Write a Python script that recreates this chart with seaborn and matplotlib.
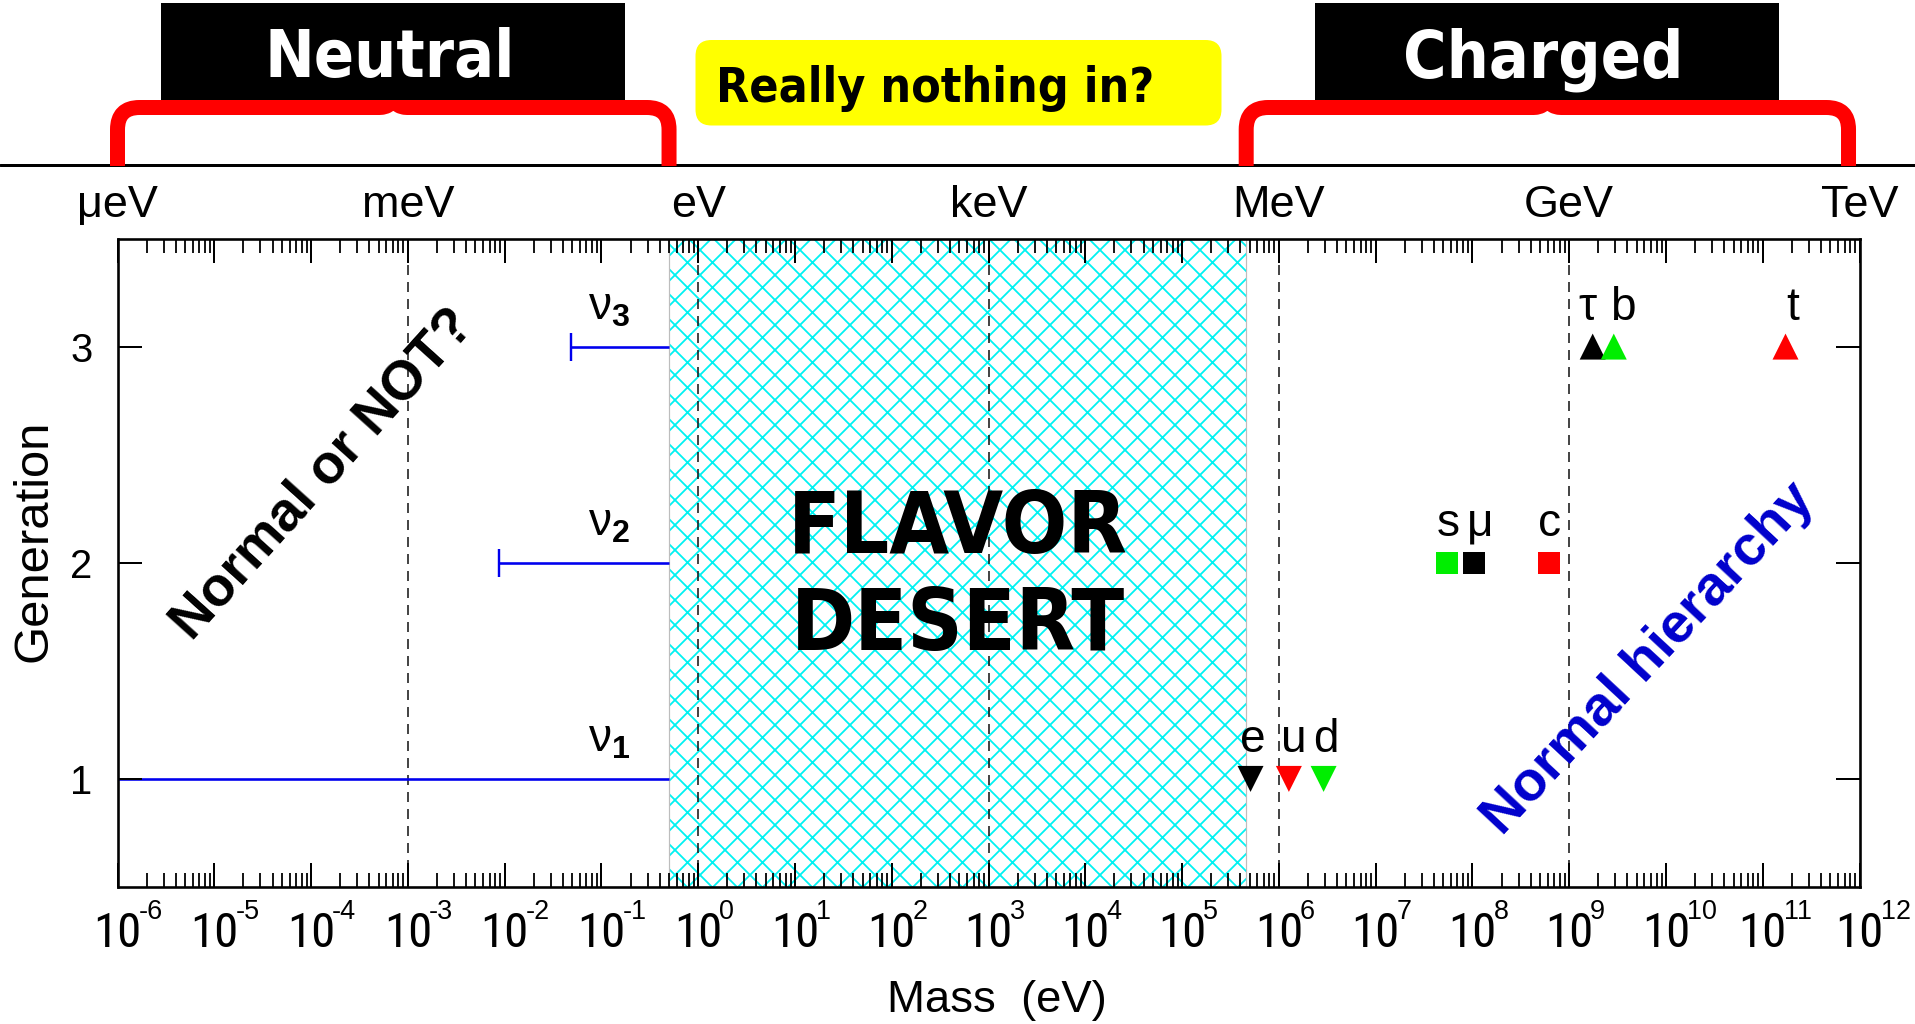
import numpy as np
import pandas as pd
import matplotlib
matplotlib.use("Agg")
import matplotlib.pyplot as plt
import matplotlib.ticker as mticker
import matplotlib.transforms as mtransforms
from matplotlib.patches import Rectangle, FancyBboxPatch, PathPatch
from matplotlib.path import Path
from matplotlib.lines import Line2D
from matplotlib import font_manager as fm
import seaborn as sns

# ---------------- data ----------------
fermion_names = ["e", "u", "d", "s", "μ", "c", "τ", "b", "t"]
fermion_mass_ev = [5.1e5, 1.27e6, 2.90e6, 5.5e7, 1.03e8, 6.2e8, 1.75e9, 2.89e9, 1.72e11]
fermion_generation = [1, 1, 1, 2, 2, 2, 3, 3, 3]
fermion_type = ["lepton", "up", "down", "down", "lepton", "up", "lepton", "down", "up"]
fermion_label_shift_px = [2, 5, 2, 1, 6, 0, -5, 9, 7]

neutrino_labels = [r"$ν_{\mathbf{1}}$", r"$ν_{\mathbf{2}}$", r"$ν_{\mathbf{3}}$"]
neutrino_generation = [1, 2, 3]
neutrino_mass_min = [1e-6, 8.7e-3, 4.9e-2]
neutrino_mass_max = [0.5, 0.5, 0.5]
neutrino_has_floor = [False, True, True]
neutrino_label_mass = 0.12

desert_range = (0.5, 4.6e5)
decade_guides = [1e-3, 1e0, 1e3, 1e6, 1e9]
unit_names = ["μeV", "meV", "eV", "keV", "MeV", "GeV", "TeV"]
unit_values = [1e-6, 1e-3, 1e0, 1e3, 1e6, 1e9, 1e12]
mass_exponents = list(range(-6, 13))
generation_ticks = [1, 2, 3]

neutral_span = (1e-6, 0.5)
charged_span = (4.6e5, 7.7e11)

# ---------------- geometry helpers ----------------
DPI = 150
W, H = 1915, 1024


def pt(px):
    return px * 72.0 / DPI


sns.set_theme(style="ticks")
_avail = {f.name for f in fm.fontManager.ttflist}
_narrow_pref = ["Liberation Sans Narrow", "Arial Narrow", "Roboto Condensed",
                "PT Sans Narrow", "Pragati Narrow", "Archivo Narrow", "Liberation Sans"]
NARROW = next(n for n in _narrow_pref if n in _avail)
_has_cond = any(f.name == "DejaVu Sans" and str(f.stretch) == "condensed" for f in fm.fontManager.ttflist)
HEAVY_STRETCH = "condensed" if _has_cond else "normal"

plt.rcParams["font.family"] = ["Liberation Sans", "DejaVu Sans"]
plt.rcParams["mathtext.fontset"] = "custom"
plt.rcParams["mathtext.rm"] = "Liberation Sans"
plt.rcParams["mathtext.bf"] = "Liberation Sans:bold"
plt.rcParams["mathtext.default"] = "regular"
plt.rcParams["hatch.linewidth"] = pt(1.8)
plt.rcParams["lines.scale_dashes"] = False

fig = plt.figure(figsize=(W / DPI, H / DPI), dpi=DPI)
fig.patch.set_facecolor("white")
ax_l, ax_r, ax_t, ax_b = 117.5, 1859.5, 238.5, 887.0
ax = fig.add_axes([ax_l / W, 1 - ax_b / H, (ax_r - ax_l) / W, (ax_b - ax_t) / H])
ax.set_facecolor("white")
ax.set_xscale("log")
ax.set_xlim(1e-6, 1e12)
ax.set_ylim(0.5, 3.5)
ax.set_axisbelow(False)

# transform for header artwork given in pixels from the top-left corner
PX = mtransforms.Affine2D().scale(1.0 / W, -1.0 / H).translate(0, 1) + fig.transFigure

# ---------------- plot body ----------------
ax.axvspan(*desert_range, facecolor="none", edgecolor="#00f2f2", hatch="xx",
           linewidth=0, zorder=1)
ax.axvspan(*desert_range, facecolor="none", edgecolor="#bdbdbd",
           linewidth=pt(1.2), zorder=1.1)

for v in decade_guides:
    ax.axvline(v, color="#1a1a1a", lw=pt(1.6), dashes=(pt(10), pt(7)), zorder=2)

ax.hlines(neutrino_generation, neutrino_mass_min, neutrino_mass_max,
          color="#0000ee", lw=pt(2.6), zorder=2.2)
floor_x = [m for m, f in zip(neutrino_mass_min, neutrino_has_floor) if f]
floor_y = [g for g, f in zip(neutrino_generation, neutrino_has_floor) if f]
ax.plot(floor_x, floor_y, ls="none", marker="|", ms=pt(28), mew=pt(2.4),
        color="#0000ee", zorder=2.2)
for lab, g in zip(neutrino_labels, neutrino_generation):
    ax.text(neutrino_label_mass, g + 0.125, lab, ha="center", va="baseline",
            fontsize=pt(46), color="black", zorder=6)

df = pd.DataFrame({
    "mass": fermion_mass_ev,
    "generation": fermion_generation,
    "type": fermion_type,
    "name": fermion_names,
    "shift": fermion_label_shift_px,
})
sns.scatterplot(
    data=df, x="mass", y="generation", hue="type", style="generation", size="generation",
    palette={"lepton": "black", "up": "#ff0000", "down": "#00ee00"},
    markers={1: "v", 2: "s", 3: "^"},
    sizes={1: pt(26) ** 2, 2: pt(22) ** 2, 3: pt(26) ** 2},
    linewidth=0, legend=False, ax=ax, zorder=5,
)
for _, row in df.iterrows():
    ax.annotate(row["name"], xy=(row["mass"], row["generation"] + 0.125),
                xytext=(pt(row["shift"]), 0), textcoords="offset points",
                ha="center", va="baseline", fontsize=pt(46), color="black", zorder=6)

# annotations inside the frame
ax.text(np.sqrt(desert_range[0] * desert_range[1]), 1.596, "FLAVOR\nDESERT",
        ha="center", va="baseline", fontsize=pt(86), fontweight="bold",
        family="DejaVu Sans", fontstretch=HEAVY_STRETCH, linespacing=1.22,
        color="black", zorder=6)
ax.text(1.33e-4, 2.406, "Normal or NOT?", rotation=48, ha="center", va="center",
        fontsize=pt(55), fontweight="bold", color="black", zorder=6)
ax.text(6.6e9, 1.554, "Normal hierarchy", rotation=47, ha="center", va="center",
        fontsize=pt(56), fontweight="bold", color="#0000cc", zorder=6)

# ---------------- axes styling ----------------
ax.xaxis.set_major_locator(mticker.FixedLocator([10.0 ** k for k in mass_exponents]))
ax.xaxis.set_minor_locator(mticker.LogLocator(base=10, subs=np.arange(2, 10), numticks=40))
ax.xaxis.set_major_formatter(mticker.FuncFormatter(lambda v, p: "10"))
ax.xaxis.set_minor_formatter(mticker.NullFormatter())
ax.set_yticks(generation_ticks)
ax.yaxis.set_minor_locator(mticker.NullLocator())

ax.tick_params(axis="both", which="both", direction="in", top=True, right=True,
               color="black", labelcolor="black")
ax.tick_params(axis="x", which="major", length=pt(24), width=pt(2), pad=pt(60),
               labelsize=pt(49), labelfontfamily=NARROW)
ax.tick_params(axis="x", which="minor", length=pt(14), width=pt(1.8))
ax.tick_params(axis="y", which="major", length=pt(24), width=pt(2), pad=pt(25),
               labelsize=pt(40))
for sp in ax.spines.values():
    sp.set_color("black")
    sp.set_linewidth(pt(2.6))
for tick in ax.xaxis.get_major_ticks():
    tick.label1.set_verticalalignment("baseline")
    tick.label1.set_fontweight("normal")

# decade exponents written as superscripts beside each "10"
for k in mass_exponents:
    ax.annotate(str(k), xy=(10.0 ** k, 0), xycoords=("data", "axes fraction"),
                xytext=(pt(21), -pt(32)), textcoords="offset points",
                ha="left", va="baseline", fontsize=pt(27), color="black",
                annotation_clip=False)

ax.set_xlabel("Mass  (eV)", fontsize=pt(45.5), color="black")
ax.xaxis.label.set_va("baseline")
ax.xaxis.set_label_coords(0.505, -(1012 - ax_b) / (ax_b - ax_t))
ax.set_ylabel("Generation", fontsize=pt(49), color="black")
ax.yaxis.label.set_va("center")
ax.yaxis.set_label_coords(-(ax_l - 34) / (ax_r - ax_l), (ax_b - 541) / (ax_b - ax_t))

# energy-unit labels above the frame
for name, v in zip(unit_names, unit_values):
    ax.text(v, (ax_b - 217) / (ax_b - ax_t), name, transform=ax.get_xaxis_transform(),
            ha="center", va="baseline", fontsize=pt(45), color="black", clip_on=False)

# ---------------- header ----------------
fig.add_artist(Line2D([0, W], [164.5, 164.5], transform=PX, color="black", lw=pt(3)))


def x_px(m):
    return ax.transData.transform((m, 1.0))[0] * W / fig.bbox.width


def brace(x0, x1, y_feet=166.0, y_bar=107.5, r=22.0, tip=14.0):
    xm = 0.5 * (x0 + x1)
    verts = [(x0, y_feet), (x0, y_bar + r), (x0, y_bar), (x0 + r, y_bar),
             (xm - tip, y_bar), (xm, y_bar), (xm, y_bar - tip),
             (xm, y_bar - tip), (xm, y_bar), (xm + tip, y_bar),
             (x1 - r, y_bar), (x1, y_bar), (x1, y_bar + r), (x1, y_feet)]
    codes = [Path.MOVETO, Path.LINETO, Path.CURVE3, Path.CURVE3,
             Path.LINETO, Path.CURVE3, Path.CURVE3,
             Path.MOVETO, Path.CURVE3, Path.CURVE3,
             Path.LINETO, Path.CURVE3, Path.CURVE3, Path.LINETO]
    fig.add_artist(PathPatch(Path(verts, codes), facecolor="none", edgecolor="#ff0000",
                             lw=pt(15), capstyle="butt", joinstyle="round",
                             transform=PX, zorder=3))
    return xm


for span, title in [(neutral_span, "Neutral"), (charged_span, "Charged")]:
    xm = brace(x_px(span[0]), x_px(span[1]))
    fig.add_artist(Rectangle((xm - 232, 3), 464, 96.5, transform=PX,
                             facecolor="black", edgecolor="none", zorder=4))
    fig.text(xm - 4, 77, title, transform=PX, ha="center", va="baseline",
             color="white", fontsize=pt(66), fontweight="bold",
             family="DejaVu Sans", fontstretch=HEAVY_STRETCH, zorder=5)

fig.add_artist(FancyBboxPatch((695.5, 40), 526, 85.5,
                              boxstyle="round,pad=0,rounding_size=16", transform=PX,
                              facecolor="#ffff00", edgecolor="none", zorder=4))
fig.text(935.5, 101.7, "Really nothing in?", transform=PX, ha="center", va="baseline",
         color="black", fontsize=pt(48), fontweight="bold", family="DejaVu Sans",
         fontstretch=HEAVY_STRETCH, zorder=5)

fig.savefig("out.png", dpi=DPI, facecolor="white")
